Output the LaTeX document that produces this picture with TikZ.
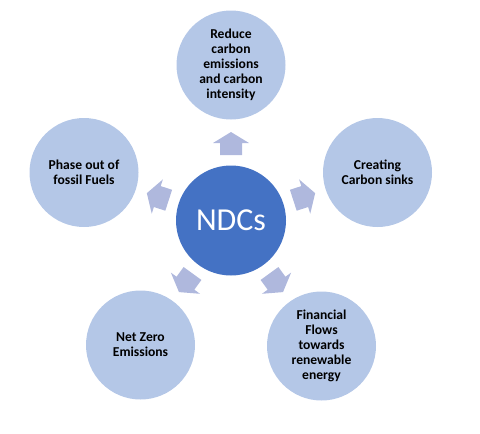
\documentclass[tikz,border=0pt]{standalone}
\usepackage{fontspec}
\setmainfont{Carlito}
\usetikzlibrary{calc}
\definecolor{outerfill}{HTML}{B4C7E7}
\definecolor{innerfill}{HTML}{4472C4}
\definecolor{arrowfill}{HTML}{AFB8DD}
\newcommand\blockarrow[1]{%
  \begin{scope}[shift={(c)}, rotate=#1]
    \fill[arrowfill] (65.5,-11) -- (77.5,-11) -- (77.5,-18) -- (88.5,0) -- (77.5,18) -- (77.5,11) -- (65.5,11) -- cycle;
  \end{scope}}
\begin{document}
\begin{tikzpicture}[x=1pt,y=-1pt,
  outerc/.style={circle,fill=outerfill,minimum size=109pt,inner sep=0pt,align=center,
    font=\bfseries\fontsize{13.6}{15}\selectfont},
  innerc/.style={circle,fill=innerfill,minimum size=110pt,inner sep=0pt,text=white,
    font=\fontsize{32}{38}\selectfont}]
\useasboundingbox (0,0) rectangle (480,434);
\node[innerc] (c) at (231,220.5) {NDCs};
\node[outerc] (t) at (231,65) {Reduce\\carbon\\emissions\\and carbon\\intensity};
\node[outerc] (r) at (377.5,172.5) {Creating\\Carbon sinks};
\node[outerc] (br) at (321.5,346) {Financial\\Flows\\towards\\renewable\\energy};
\node[outerc] (bl) at (140.5,345) {Net Zero\\Emissions};
\node[outerc] (l) at (84,172.5) {Phase out of\\fossil Fuels};
\blockarrow{90}
\blockarrow{18}
\blockarrow{-54}
\blockarrow{-126}
\blockarrow{162}
\end{tikzpicture}
\end{document}
